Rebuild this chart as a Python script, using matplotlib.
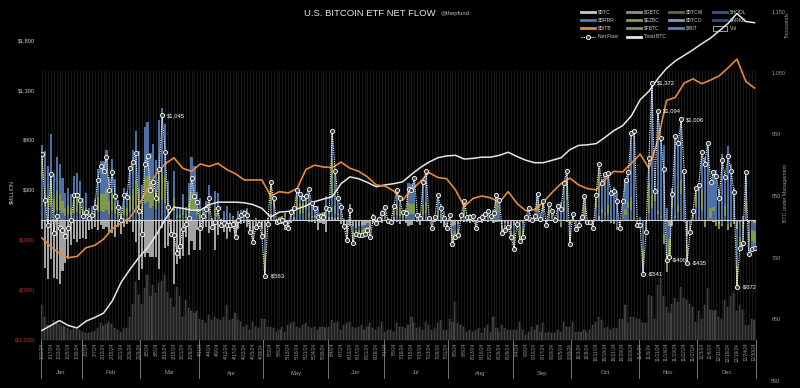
import numpy as np
import pandas as pd
import matplotlib
matplotlib.use('Agg')
import matplotlib.pyplot as plt
from matplotlib.lines import Line2D
from matplotlib.patches import Rectangle

plt.rcParams['font.family'] = ['Liberation Sans', 'DejaVu Sans']

# trading sessions 2024 (NYSE holidays removed)
holidays = ['2024-01-15', '2024-02-19', '2024-03-29', '2024-05-27', '2024-06-19',
            '2024-07-04', '2024-09-02', '2024-11-28', '2024-12-25']
days = pd.bdate_range('2024-01-11', '2024-12-30', freq='C', holidays=holidays)

# daily net flow, $M
net_flow = [
    655, 203, -50, 460, -127, 40, -85, -100, -157, -77, 0, 250, 250, 200,  # Jan
    40, 83, 20, 50, 133, 403, 541, 493, 631, 302, 477, 237, 133, -3, 250, 233, 520, 577, 673, 92,  # Feb
    -143, 560, 643, 300, 383, 223, 507, 1045, 684, 132, -139, -154, -326, -261, -94, -36, 15, 418, 243, 179,  # Mar
    -85, 40, 113, 217, -67, -17, 117, -50, -33, -50, -50, -40, -167, 0, 50, 67, 50, -117, -217, -67, -40, -160,  # Apr
    -563, -37, 378, 217, -20, -11, 0, -33, -83, 83, 117, 303, 257, 222, 237, 305, 167, 117, 33, 40, 33, 117,  # May
    105, 886, 488, 217, 131, -64, -200, 100, -226, -145, -146, -152, -140, -105, -175, 31, -30, 11, 73,  # Jun
    129, -13, -20, 143, 295, 216, 78, 73, 310, 301, 422, 53, 19, 384, 486, 17, -78, 31, 252, 124, 18, -80,  # Jul
    50, -237, -168, -148, 45, 194, 28, 28, 39, -81, 11, 33, 62, 88, 39, 65, 252, 202, -127, -105, -71, -175,  # Aug
    -288, -38, -211, -169, 28, 117, -5, 39, 263, 12, 187, -53, 158, 93, 4, 136, 106, 365, 494, -243,  # Sep
    61, -92, -55, 25, 236, -18, -20, -81, 254, 556, 372, 458, 470, 273, 294, 192, -80, 188, 402, 479, 870, 893, -54,  # Oct
    -55, -541, -116, 622, 1372, 294, 1094, 818, 511, -400, -371, 255, 837, 773, 1006, 490, -435, -122, 90, 320,  # Nov
    353, 676, 556, 766, 376, 479, 439, 223, 597, 428, 637, 493, 276, -672, -277, -226, 475, -338, -287, -283,  # Dec
]
gbtc = [
    -95, -484, -594, -395, -582, -590, -641, -515, -429, -394, -255, -192, -221, -187,
    -182, -188, -100, -94, -73, -102, -52, -95, -73, -130, -128, -170, -67, -137, -70, -44, -22, -125, -216, -599,
    -492, -368, -332, -373, -374, -375, -494, -79, -276, -257, -139, -643, -443, -386, -358, -170, -350, -212, -299, -104,
    -302, -81, -75, -133, -80, -303, -154, -18, -125, -166, -110, -79, -134, -90, -45, -35, -66, -130, -139, -82, -25, -93,
    -167, -54, 63, 4, -29, -43, -37, -104, -37, -28, 27, -6, 0, -15, 0, -16, -17, -26, -105, -31, -42, -124,
    29, 28, 15, 30, -37, -40, -121, -61, -61, -82, -62, -62, -53, -34, -90, -31, -28, -12, -27,
    0, -32, -28, 28, -25, -37, 0, -35, -58, -54, 0, -20, -53, 0, -10, -10, -20, -20, -10, -35, -73, -10,
    0, -60, -47, -40, -10, -20, -20, -30, -20, -30, -20, -30, -10, -20, -10, -30, -20, -15, -20, -35, -40, -80,
    -50, -37, -23, -28, 0, -20, -10, 0, 0, -20, -10, -20, 0, 0, -10, 0, 0, 0, -20, -40,
    -10, -20, -10, 0, 0, 0, 0, -10, 0, 37, -25, 0, 0, 0, 0, 0, 0, 0, 0, 0, 0, 0, -10,
    0, -10, -10, 0, 0, 0, 0, 0, 0, -22, -60, -60, 0, 0, 0, 0, -159, -10, 0, 0,
    -10, 0, 0, 0, 0, -20, 0, -40, 0, 0, 0, 0, -10, -88, -25, -30, 0, -30, 0, -30,
]
ibit = [
    112, 386, 300, 460, 250, 340, 300, 225, 150, 170, 140, 240, 250, 210,
    120, 150, 65, 80, 115, 280, 330, 330, 390, 240, 335, 225, 110, 75, 180, 155, 300, 390, 490, 380,
    200, 520, 540, 370, 420, 330, 560, 620, 530, 215, 5, 270, 65, 70, 145, 75, 200, 350, 300, 155,
    165, 42, 150, 200, 0, 165, 130, 0, 70, 110, 70, 0, 0, 80, 30, 20, 20, 0, 0, 0, 0, 0,
    -37, 0, 13, 0, 0, 0, 0, 0, 0, 30, 20, 70, 90, 65, 10, 250, 140, 90, 100, 20, 0, 170,
    0, 274, 350, 150, 150, 6, 0, 0, 0, 0, 0, 0, 0, 0, 0, 0, 0, 0, 82,
    70, 10, 5, 60, 190, 130, 40, 60, 200, 200, 260, 40, 40, 230, 320, 20, -10, 30, 160, 100, 60, -20,
    40, 0, 0, 0, 0, 60, 20, 40, 40, 0, 20, 60, 60, 90, 40, 60, 80, 220, 0, 0, 0, 0,
    0, 0, 0, 0, 20, 0, 0, 0, 100, 15, 0, 0, 60, 40, 10, 100, 180, 180, 100, 0,
    0, 0, 0, 0, 100, 0, 0, 0, 20, 80, 290, 390, 310, 300, 330, 290, 0, 160, 290, 300, 640, 870, 0,
    30, -70, 0, 250, 1120, 0, 1000, 780, 750, 120, 0, 0, 800, 626, 608, 500, 0, 0, 0, 0,
    338, 375, 570, 750, 257, 370, 500, 300, 660, 290, 740, 560, 320, 0, 0, -190, 300, -120, -80, -50,
]
fbtc = [
    227, 163, 140, 260, 130, 190, 160, 120, 80, 90, 70, 130, 140, 115,
    65, 80, 35, 45, 60, 150, 175, 175, 210, 130, 180, 120, 60, 40, 95, 85, 160, 210, 265, 205,
    90, 250, 260, 180, 200, 160, 270, 300, 260, 105, -10, 130, 30, 35, 70, 35, 100, 170, 145, 75,
    45, 20, 15, 90, 15, 80, 100, 5, 15, -20, -10, 20, -20, 5, 30, 50, 50, 5, -60, 5, -5, -35,
    -191, 10, 203, 100, 5, 20, 20, 40, -30, 50, 40, 130, 110, 100, 120, 40, 20, 30, 20, 30, 40, 45,
    50, 379, 80, 20, 5, -20, -50, 100, -105, -40, -50, -50, -60, -35, -50, 50, -10, 15, 0,
    40, 5, 3, 35, 80, 80, 25, 30, 110, 100, 100, 20, 20, 100, 110, 5, -30, 15, 70, 40, 20, -30,
    5, -100, -60, -60, 30, 100, 15, 10, 10, -30, 5, 0, 5, 10, 5, 20, 120, -5, -70, -50, -20, -60,
    -160, 0, -150, -80, 5, 60, 0, 20, 80, 10, 120, -20, 60, 30, 0, 20, -50, 100, 210, -130,
    60, -30, -20, 10, 100, 0, 0, -40, 110, 240, 40, 20, 100, -30, -30, -30, -40, 10, 60, 60, 130, 13, -20,
    -40, -170, -40, 300, 130, 100, 30, 20, -100, -180, -180, 200, 20, 70, 140, 10, -180, -60, 60, 190,
    20, 200, -70, 10, 100, 40, -60, -50, -20, 100, -60, -40, -30, -208, -110, -50, 100, -100, -110, -120,
]
# daily traded volume, $B
volume = [
    5.4, 3.5, 2.3, 2.3, 3.0, 2.8, 2.5, 2.2, 2.0, 1.8, 1.6, 1.9, 1.7, 1.6,
    1.3, 1.1, 1.0, 1.2, 1.4, 1.9, 2.6, 2.2, 2.5, 2.7, 2.4, 1.8, 1.5, 1.3, 1.8, 1.8, 3.6, 5.5, 8.9, 6.9,
    5.6, 8.0, 10.0, 6.7, 8.5, 7.2, 8.7, 9.0, 10.0, 7.4, 6.4, 5.1, 8.2, 6.7, 3.6, 6.2, 4.9, 4.4, 4.1, 4.4,
    3.3, 3.1, 2.6, 3.8, 3.1, 3.6, 3.3, 3.1, 3.6, 5.4, 3.1, 3.3, 4.1, 3.1, 2.8, 2.0, 2.3, 1.5, 2.8, 2.0, 1.8, 3.3,
    3.3, 2.0, 2.0, 1.8, 1.3, 1.5, 2.0, 1.3, 2.3, 2.6, 2.8, 2.0, 1.8, 2.3, 2.6, 2.0, 1.8, 2.0, 1.5, 2.0, 2.0, 1.8,
    2.0, 3.1, 2.6, 2.8, 1.5, 2.3, 2.6, 2.8, 2.0, 1.8, 2.0, 2.3, 1.5, 2.0, 2.6, 1.8, 1.5, 2.0, 2.8,
    1.3, 1.5, 1.5, 1.3, 2.6, 2.0, 2.0, 1.8, 2.3, 3.6, 2.6, 1.8, 2.0, 1.5, 2.8, 2.3, 1.5, 1.8, 2.6, 3.1, 1.5, 1.5,
    3.3, 2.8, 5.9, 2.6, 2.3, 2.0, 1.3, 1.5, 1.3, 1.5, 1.8, 1.0, 1.8, 2.3, 1.3, 3.6, 1.8, 1.3, 2.3, 1.8, 1.5, 1.5,
    1.5, 1.5, 2.8, 1.5, 0.8, 1.3, 2.0, 1.5, 2.3, 1.3, 2.6, 1.0, 1.3, 1.0, 1.0, 1.5, 1.3, 2.8, 2.0, 2.0,
    2.8, 1.3, 1.3, 1.3, 1.5, 1.0, 1.5, 2.3, 2.8, 3.6, 3.1, 1.8, 2.0, 1.5, 1.8, 1.8, 3.3, 3.3, 5.4, 2.6, 3.6, 3.6, 3.3,
    3.3, 2.6, 2.6, 6.9, 6.7, 3.3, 8.5, 9.5, 6.7, 5.1, 4.1, 5.6, 6.4, 5.9, 8.2, 6.4, 6.2, 5.6, 5.1, 2.8,
    4.4, 3.3, 5.4, 8.0, 4.6, 4.4, 4.6, 3.6, 3.3, 6.2, 5.1, 6.7, 7.2, 4.4, 5.4, 4.6, 2.3, 2.3, 3.3, 3.1,
]
# lines read at every third session (the labelled dates), thousands
total_btc = [
    632, 640, 648, 640, 636, 647, 653, 660, 680, 710,
    731, 750, 766, 787, 812, 832, 830, 827, 827, 836,
    840, 840, 840, 839, 836, 830, 816, 824, 825, 829,
    834, 841, 845, 849, 870, 881, 878, 872, 865, 868,
    870, 873, 885, 896, 905, 912, 915, 916, 910, 911,
    913, 913, 916, 921, 914, 908, 904, 904, 908, 912,
    925, 932, 933, 935, 945, 956, 964, 980, 1006, 1020,
    1040, 1057, 1069, 1078, 1087, 1097, 1106, 1118, 1130, 1146,
    1133, 1131,
]
bitb_line = [
    782, 768, 757, 750, 752, 766, 770, 780, 797, 806,
    815, 835, 862, 886, 902, 912, 895, 890, 902, 898,
    903, 893, 886, 876, 876, 876, 850, 857, 855, 862,
    893, 900, 897, 896, 905, 895, 890, 881, 868, 866,
    858, 843, 860, 873, 888, 880, 878, 860, 833, 846,
    850, 847, 840, 857, 838, 826, 828, 840, 856, 870,
    879, 868, 862, 860, 876, 890, 889, 903, 918, 895,
    940, 1005, 1010, 1033, 1040, 1032, 1038, 1045, 1058, 1072,
    1036, 1025,
]

C_GBTC, C_OTHER, C_FBTC, C_IBIT = '#a3a3a3', '#4a6890', '#7f994c', '#4d72a8'

n = len(days)
x = np.arange(n)
net = np.array(net_flow, float)
g = np.array(gbtc, float)
ib = np.array(ibit, float)
fb = np.array(fbtc, float)
rest = net - g - ib - fb          # all remaining funds
vol = np.array(volume, float)
xl = x[::3]

fig = plt.figure(figsize=(8, 3.88), dpi=100, facecolor='black')
rect = [40.5 / 800, 1 - 381 / 388, (756 - 40.5) / 800, 370 / 388]
ax = fig.add_axes(rect)
ax_vol = ax.twinx()
ax_r = ax.twinx()
ax_n = ax.twinx()
for k, a in enumerate([ax_vol, ax, ax_r, ax_n]):
    a.set_zorder(k + 1)
    a.patch.set_visible(False)
    for s in a.spines.values():
        s.set_visible(False)

ax.set_xlim(-0.5, n - 0.5)
ax.set_ylim(-1610, 2090)
ax_n.set_ylim(-1610, 2090)
ax_r.set_ylim(550, 1150)
ax_vol.set_ylim(-6.31, 50.6)
ax.set_xticks([])
for a in (ax_vol, ax_n):
    a.set_yticks([])

# day stripes
ax.vlines(x, -1200, 1500, colors='#1d1d1d', lw=0.6, zorder=0)

# volume bars
ax_vol.bar(x, vol, width=0.72, color='#3a3a3a', edgecolor='#5e5e5e', lw=0.3)

# stacked fund flows
pos_base = np.zeros(n)
neg_base = np.zeros(n)
for vals, col in [(g, C_GBTC), (rest, C_OTHER), (fb, C_FBTC), (ib, C_IBIT)]:
    pos = np.clip(vals, 0, None)
    neg = np.clip(vals, None, 0)
    ax.bar(x, pos, bottom=pos_base, width=0.72, color=col, lw=0, zorder=2)
    ax.bar(x, neg, bottom=neg_base, width=0.72, color=col, lw=0, zorder=2)
    pos_base += pos
    neg_base += neg
ax.axhline(0, color='#d0d0d0', lw=0.8, zorder=3)

# left axis
lt = [-1200, -700, -200, 300, 800, 1300, 1800]
ax.set_yticks(lt)
ax.set_yticklabels([f'${v:,}' if v > 0 else f'(${-v:,})' for v in lt])
ax.tick_params(axis='y', length=0, pad=4, labelsize=4, labelcolor='#cfcfcf')
for lab, v in zip(ax.get_yticklabels(), lt):
    if v < 0:
        lab.set_color('#b8342a')

# right axis
rt = list(range(550, 1151, 100))
ax_r.set_yticks(rt)
ax_r.set_yticklabels([f'{v:,}' for v in rt])
ax_r.tick_params(axis='y', length=0, pad=11, labelsize=4, labelcolor='#9a9a9a')

# lines
ax_r.plot(xl, total_btc, color='#e6e6e6', lw=1.1)
ax_r.plot(xl, bitb_line, color='#e58a3a', lw=1.2)

ax_n.plot(x, net, color='white', lw=0.8, ls=(0, (1, 1)), marker='o', ms=3.0,
          mfc='#444444', mec='white', mew=0.6)
for i in x:
    v = net[i]
    if v >= 1000 or v <= -400:
        lab = f'${v:,.0f}' if v > 0 else f'-${-v:,.0f}'
        ax_n.annotate(lab, (i, v), xytext=(3.5, 0), textcoords='offset points',
                      fontsize=4.2, color='white', va='center')

# date labels and months
for i in range(0, n, 3):
    d = days[i]
    ax.text(i, -1228, f'{d.month}/{d.day}/{d:%y}', rotation=90, ha='center', va='top',
            fontsize=3.4, color='#9a9a9a')
months = days.month.values
starts = [0] + [i for i in range(1, n) if months[i] != months[i - 1]] + [n]
for a, b in zip(starts[:-1], starts[1:]):
    ax.plot([a - 0.5, a - 0.5], [-1200, -1580], color='#8a8a8a', lw=0.6, clip_on=False)
    ax.text((a + b - 1) / 2, -1530, days[a].strftime('%b'), ha='center', va='center',
            fontsize=4.2, color='#9a9a9a')
ax.plot([n - 0.5, n - 0.5], [-1200, -1580], color='#8a8a8a', lw=0.6, clip_on=False)

# titles
fig.text(304 / 800, 1 - 14 / 388, 'U.S. BITCOIN ETF NET FLOW', ha='left', va='center',
         fontsize=6.8, color='#e6e6e6')
fig.text(440 / 800, 1 - 14 / 388, '@thepfund', ha='left', va='center', fontsize=4.2, color='#bbbbbb')
fig.text(12 / 800, 1 - 192 / 388, '$MILLION', rotation=90, ha='center', va='center',
         fontsize=3.8, color='#bbbbbb')
fig.text(787 / 800, 1 - 25 / 388, 'Thousands', rotation=90, ha='center', va='center',
         fontsize=3.8, color='#9a9a9a')
fig.text(785 / 800, 1 - 193 / 388, 'BTC under Management', rotation=90, ha='center', va='center',
         fontsize=3.8, color='#9a9a9a')

# legend (drawn by hand in figure pixels)
cols = [581, 627, 669, 713]
rows = [12, 20, 28, 37]
entries = [
    [('$BTC', '#c9c9c9'), ('$GBTC', '#8c8c8c'), ('$BTCW', '#5d6b38'), ('$HODL', '#3a5877')],
    [('$BRRR', '#5a79a8'), ('$EZBC', '#8b9b4f'), ('$BTCO', '#7f9cb4'), ('$ARKB', '#2f4d7c')],
    [('$BITB', '#e08a3e'), ('$FBTC', '#7e994e'), ('$IBIT', '#5b80b6'), ('Vol', 'box')],
    [('Net Flow', 'net'), ('Total BTC', '#e6e6e6')],
]
W, H = 800, 388
for r, row in enumerate(entries):
    yy = 1 - rows[r] / H
    for c, (name, col) in enumerate(row):
        x0 = cols[c]
        if col == 'box':
            fig.add_artist(Rectangle((x0 / W, yy - 2.5 / H), 14 / W, 5 / H, facecolor='black',
                                     edgecolor='#dddddd', lw=0.5, transform=fig.transFigure))
        elif col == 'net':
            fig.add_artist(Line2D([x0 / W, (x0 + 14) / W], [yy, yy], color='white', lw=0.8,
                                  ls=(0, (1, 1)), transform=fig.transFigure))
            fig.add_artist(Line2D([(x0 + 7) / W], [yy], marker='o', ms=3.0, mfc='#444444',
                                  mec='white', mew=0.6, transform=fig.transFigure))
        else:
            fig.add_artist(Line2D([x0 / W, (x0 + 14) / W], [yy, yy], color=col, lw=2.0,
                                  transform=fig.transFigure))
        fig.text((x0 + 17) / W, yy, name, ha='left', va='center', fontsize=3.6, color='#cccccc')

fig.savefig('out.png', dpi=100, facecolor='black')
